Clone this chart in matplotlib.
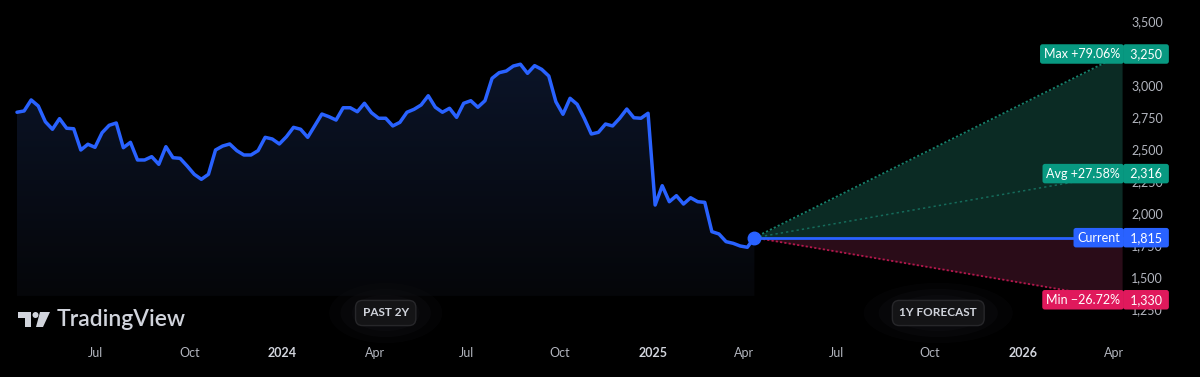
import numpy as np
import pandas as pd
import matplotlib
matplotlib.use('Agg')
import matplotlib.pyplot as plt
import matplotlib.dates as mdates
import matplotlib.transforms as mtransforms
from matplotlib.patches import Polygon, Circle, Ellipse
from matplotlib.colors import LinearSegmentedColormap

# weekly closes for the past 2 years
closes = [2795, 2805, 2891, 2844, 2721, 2662, 2745, 2670, 2666, 2500,
          2545, 2521, 2635, 2693, 2711, 2518, 2560, 2422, 2422, 2448,
          2388, 2526, 2440, 2435, 2375, 2310, 2271, 2310, 2500, 2531,
          2547, 2495, 2461, 2461, 2495, 2599, 2586, 2547, 2604, 2677,
          2662, 2599, 2690, 2781, 2760, 2734, 2830, 2830, 2799, 2865,
          2791, 2748, 2748, 2688, 2716,
          2795, 2818, 2852, 2924, 2834, 2795, 2826, 2755, 2865, 2885,
          2834, 2885, 3060, 3104, 3117, 3156, 3170, 3099, 3159, 3130,
          3078, 2877, 2779, 2904, 2857, 2748, 2625, 2638, 2703, 2688,
          2748, 2820, 2752, 2748, 2787, 2070, 2221, 2096, 2143, 2078,
          2127, 2096, 2091, 1862, 1844, 1784, 1771, 1750, 1740, 1815]
dates = pd.date_range(end='2025-04-11', periods=len(closes), freq='7D')

# 1 year analyst forecast
current = 1815
fc_max = 3250
fc_avg = 2315.5
fc_min = 1330
fc_end = pd.Timestamp('2026-04-09')

price_ticks = [3500, 3250, 3000, 2750, 2500, 2250, 2000, 1750, 1500, 1250]
time_ticks = ['2023-07-01', '2023-10-01', '2024-01-01', '2024-04-01',
              '2024-07-01', '2024-10-01', '2025-01-01', '2025-04-01',
              '2025-07-01', '2025-10-01', '2026-01-01', '2026-04-01']
time_labels = ['Jul', 'Oct', '2024', 'Apr', 'Jul', 'Oct', '2025', 'Apr',
               'Jul', 'Oct', '2026', 'Apr']

BG = '#000000'
BLUE = '#2962ff'
GREEN = '#089981'
RED = '#e0195c'
GREY = '#b2b5be'
FONT = ['Lato', 'DejaVu Sans']

fig = plt.figure(figsize=(12, 3.77), dpi=100)
fig.patch.set_facecolor(BG)
ax = fig.add_axes([0, 0, 1, 1])
ax.set_facecolor(BG)
ax.axis('off')

# scales: ~1.013 px per day, 250 per 32 px
d_jul = mdates.date2num(pd.Timestamp('2023-07-01'))
d_apr = mdates.date2num(pd.Timestamp('2026-04-01'))
ppd = (1114 - 96) / (d_apr - d_jul)
xlim = (d_jul - 96 / ppd, d_jul + (1200 - 96) / ppd)
ylim = (3500 - 355 * 7.8125, 3500 + 22 * 7.8125)
fill_base = 1360

x = mdates.date2num(dates)
x_last = x[-1]
x_end = mdates.date2num(fc_end)

# past area with vertical gradient
poly = ax.fill_between(x, closes, fill_base, color='none', lw=0)
cmap = LinearSegmentedColormap.from_list('g', ['#050609', '#0b1428'])
grad = np.linspace(0, 1, 256).reshape(-1, 1)
im = ax.imshow(grad, cmap=cmap, origin='lower', aspect='auto',
               extent=[x[0], x_last, fill_base, max(closes)], zorder=1)
im.set_clip_path(poly.get_paths()[0], transform=ax.transData)

# forecast cones
ax.fill_between([x_last, x_end], [current, current], [current, fc_max],
                color='#0b2b24', lw=0, zorder=1)
ax.fill_between([x_last, x_end], [current, current], [current, fc_min],
                color='#2a0c18', lw=0, zorder=1)
ax.plot([x_last, x_end], [current, fc_max], color='#16806b', lw=1.3,
        ls=(0, (1.2, 1.2)), zorder=2)
ax.plot([x_last, x_end], [current, fc_avg], color='#156b5b', lw=1.1,
        ls=(0, (1.5, 2)), zorder=2)
ax.plot([x_last, x_end], [current, fc_min], color='#b3174c', lw=1.3,
        ls=(0, (1.2, 1.2)), zorder=2)
ax.plot([x_last, x_end], [current, current], color=BLUE, lw=2, zorder=3)

# price line
ax.plot(x, closes, color=BLUE, lw=2.5, solid_joinstyle='round',
        solid_capstyle='round', zorder=4)
ax.plot([x_last], [current], 'o', ms=9, color=BLUE, zorder=5)

ax.set_xlim(*xlim)
ax.set_ylim(*ylim)

# price scale
yt = mtransforms.blended_transform_factory(ax.transAxes, ax.transData)
for p in price_ticks:
    ax.text(1163 / 1200, p, f'{p:,}', transform=yt, ha='right', va='center',
            color=GREY, fontsize=9, family=FONT, zorder=6)

# time scale
xt = mtransforms.blended_transform_factory(ax.transData, ax.transAxes)
for d, lab in zip(time_ticks, time_labels):
    bold = lab.isdigit()
    ax.text(mdates.date2num(pd.Timestamp(d)), (377 - 353) / 377, lab,
            transform=xt, ha='center', va='center', fontsize=9, family=FONT,
            color='#d1d4dc' if bold else GREY,
            fontweight='bold' if bold else 'normal')

# forecast labels
def tag(val, text, color):
    box = dict(boxstyle='round,pad=0.3,rounding_size=0.2', fc=color, ec='none')
    ax.annotate(text, xy=(x_end, val), xytext=(-1.5, 0),
                textcoords='offset points', ha='right', va='center',
                color='white', fontsize=9, family=FONT, zorder=8, bbox=box)
    ax.text(1146 / 1200, val, f' {val:,.0f} ', transform=yt, ha='center',
            va='center', color='white', fontsize=9, family=FONT, zorder=8,
            bbox=box)

tag(fc_max, f'Max +{(fc_max / current - 1) * 100:.2f}%', GREEN)
tag(fc_avg, f'Avg +{(fc_avg / current - 1) * 100:.2f}%', GREEN)
tag(current, 'Current', BLUE)
tag(fc_min, f'Min \u2212{(1 - fc_min / current) * 100:.2f}%', RED)

# section badges
badge_y = (377 - 313) / 377
for xc, lab in [((x[0] + x_last) / 2, 'PAST 2Y'),
                ((x_last + x_end) / 2, '1Y FORECAST')]:
    for r, a in [(1.0, 0.3), (0.8, 0.45), (0.6, 0.6)]:
        ax.add_patch(Ellipse((xc, badge_y), width=(len(lab) * 9 + 50) * r / ppd,
                             height=0.16 * r, transform=xt, fc='#0d0d10',
                             ec='none', alpha=a, zorder=6))
    ax.text(xc, badge_y, lab, transform=xt, ha='center', va='center',
            color='#d1d4dc', fontsize=8.5, family=FONT, fontweight='bold',
            zorder=7,
            bbox=dict(boxstyle='round,pad=0.6,rounding_size=0.6',
                      fc='#141416', ec='#27272a', lw=1))

# TradingView logo (pixel overlay)
ov = fig.add_axes([0, 0, 1, 1], zorder=10)
ov.set_xlim(0, 1200)
ov.set_ylim(377, 0)
ov.axis('off')
ov.patch.set_alpha(0)
logo_c = '#d1d4dc'
ov.add_patch(Polygon([(18, 312), (31, 312), (31, 327), (25, 327), (25, 318),
                      (18, 318)], closed=True, fc=logo_c, ec='none'))
ov.add_patch(Circle((35.5, 315), 3, fc=logo_c, ec='none'))
ov.add_patch(Polygon([(40, 312), (50, 312), (43, 327), (36, 327)],
                     closed=True, fc=logo_c, ec='none'))
ov.text(57, 319.5, 'TradingView', ha='left', va='center', color=logo_c,
        fontsize=16.5, family=FONT, fontweight='semibold')

fig.savefig('out.png', dpi=100, facecolor=BG)
